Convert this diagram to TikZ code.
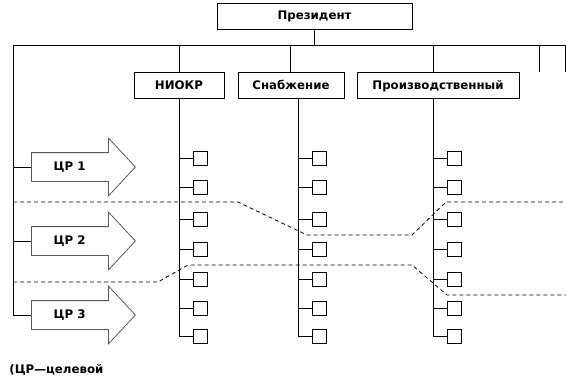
\documentclass[tikz,border=0pt]{standalone}
\usepackage{fontspec}
\setmainfont{DejaVu Sans}
\usetikzlibrary{positioning,arrows.meta,calc,shapes.arrows}

\begin{document}
\begin{tikzpicture}[
  x=1pt, y=-1pt,
  line width=0.8pt,
  font=\fontsize{11.8}{13}\selectfont\bfseries,
  orgbox/.style={draw, minimum height=26pt, inner sep=0pt, text height=9pt, text depth=2pt},
  goalarrow/.style={draw=black!65, single arrow, single arrow head extend=14.5pt, single arrow tip angle=94, minimum height=104pt, inner xsep=0pt, inner ysep=14pt, anchor=tail},
  cell/.style={draw, minimum size=14pt, inner sep=0pt, anchor=west},
  zone/.style={dash pattern=on 4pt off 3pt, line width=0.8pt}
]
  \useasboundingbox (0,0) rectangle (566,386);
  % management level
  \node[orgbox, minimum width=195pt] (pres) at (314.5,16) {Президент};
  \node[orgbox, minimum width=90pt] (niokr) at (179,85.5) {НИОКР};
  \node[orgbox, minimum width=106pt] (supply) at (291,85.5) {Снабжение};
  \node[orgbox, minimum width=162pt] (prod) at (438,85.5) {Производственный};
  \coordinate (busL) at (13,45);
  \coordinate (busR) at (565,45);
  \draw (busL) -- (busR);
  \draw (pres.south) -- (pres.south |- busL);
  \draw (niokr.north) -- (niokr.north |- busL);
  \draw ([xshift=-1pt]supply.north) -- ([xshift=-1pt]supply.north |- busL);
  \draw ([xshift=-5pt]prod.north) -- ([xshift=-5pt]prod.north |- busL);
  \foreach \x/\n in {539/a,565/b} {
    \coordinate (stub\n) at (\x,72);
    \draw (stub\n) -- (stub\n |- busL);
  }
  % units under each department
  \foreach \col/\bx in {niokr/179,supply/298,prod/433} {
    \coordinate (\col-top) at (\bx,98.5);
    \draw (\col-top) -- (\bx,336);
    \foreach \y [count=\i] in {158,187,219,249,279,308,336} {
      \node[cell] (\col-\i) at (\bx+14,\y) {};
      \draw (\bx,\y) -- (\col-\i.west);
    }
  }
  % goal arrows
  \foreach \i/\y in {1/167,2/241,3/315}
    \node[goalarrow, label={[xshift=-7pt]center:ЦР \i}] (cr\i) at (31,\y) {};
  \draw (busL) |- (cr3.tail);
  \draw (busL |- cr1.tail) -- (cr1.tail);
  \draw (busL |- cr2.tail) -- (cr2.tail);
  % zone borders
  \draw[zone] (13,202) -- (238,202) -- (307,235) -- (412,235) -- (446,202) -- (566,202);
  \draw[zone] (13,282) -- (158,282) -- (188,265) -- (412,265) -- (447,295) -- (566,295);
  \node[anchor=west, inner sep=0pt] (note) at (9,370) {(ЦР—целевой};
\end{tikzpicture}
\end{document}
